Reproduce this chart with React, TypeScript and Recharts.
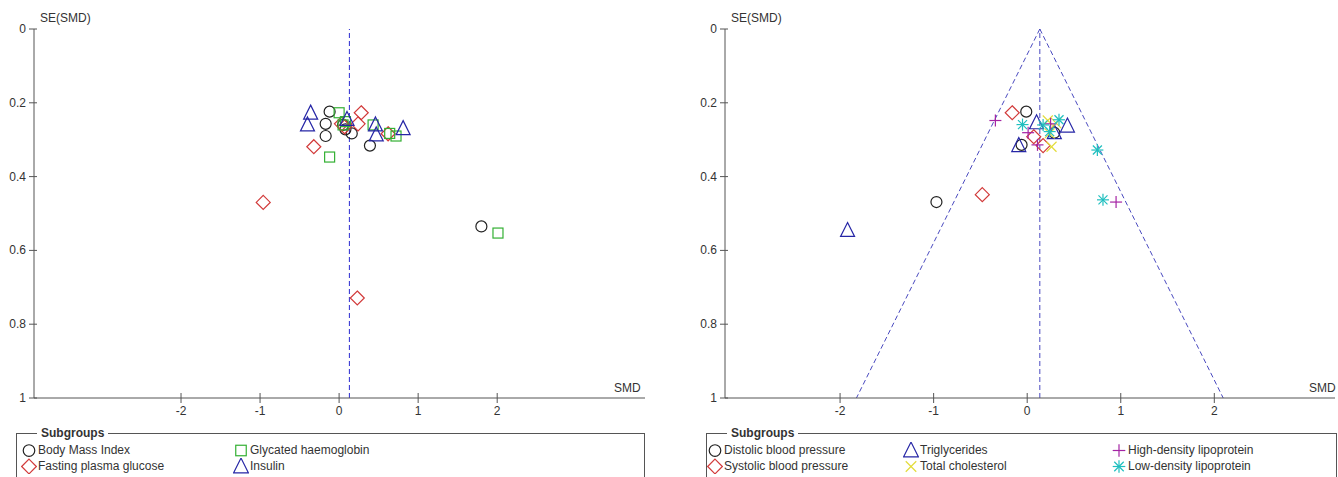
import React from 'react';
import { ScatterChart, Scatter, XAxis, YAxis, ReferenceLine } from 'recharts';

// left panel: glycaemic / anthropometric outcomes
const bmiSmd = [-0.12, -0.17, -0.17, 0.08, 0.16, 0.39, 1.8, 0.05];
const bmiSe = [0.224, 0.257, 0.29, 0.272, 0.283, 0.316, 0.535, 0.26];
const fpgSmd = [0.28, 0.24, 0.03, -0.32, -0.96, 0.23, 0.62, 0.07];
const fpgSe = [0.227, 0.257, 0.257, 0.319, 0.47, 0.729, 0.284, 0.265];
const hba1cSmd = [0.0, 0.08, 0.05, 0.43, 0.64, 0.72, -0.12, 2.01];
const hba1cSe = [0.227, 0.251, 0.26, 0.26, 0.283, 0.29, 0.347, 0.553];
const insulinSmd = [-0.36, -0.4, 0.1, 0.46, 0.47, 0.81];
const insulinSe = [0.228, 0.26, 0.245, 0.26, 0.287, 0.27];

// right panel: blood pressure / lipids
const dbpSmd = [-0.01, -0.06, -0.97, 0.29];
const dbpSe = [0.224, 0.314, 0.469, 0.281];
const sbpSmd = [-0.16, 0.07, 0.17, -0.48];
const sbpSe = [0.227, 0.292, 0.316, 0.449];
const tgSmd = [0.1, 0.43, 0.29, -0.09, -1.92];
const tgSe = [0.254, 0.263, 0.281, 0.316, 0.546];
const tcSmd = [0.22, 0.26, 0.24, 0.31];
const tcSe = [0.248, 0.319, 0.283, 0.255];
const hdlSmd = [-0.34, 0.01, 0.11, 0.25, 0.95];
const hdlSe = [0.248, 0.281, 0.314, 0.257, 0.469];
const ldlSmd = [-0.05, 0.34, 0.17, 0.24, 0.75, 0.81];
const ldlSe = [0.259, 0.246, 0.26, 0.278, 0.328, 0.463];

const xTicks = [-2, -1, 0, 1, 2];
const yTicks = [0, 0.2, 0.4, 0.6, 0.8, 1];
const leftPooled = 0.13;
const rightPooled = 0.135;

const zip = (smd: number[], se: number[]) => smd.map((v, i) => ({ smd: v, se: se[i] }));

const FONT = '"Liberation Sans", Arial, sans-serif';
const AXIS = '#555';

type Mk = 'circle' | 'square' | 'diamond' | 'triangle' | 'plus' | 'x' | 'star';

const marker = (type: Mk, cx: number, cy: number, color: string, s = 1) => {
  const p = { stroke: color, strokeWidth: 1.2, fill: 'none' };
  switch (type) {
    case 'circle':
      return <circle cx={cx} cy={cy} r={5.5 * s} {...p} />;
    case 'square':
      return <rect x={cx - 5 * s} y={cy - 5 * s} width={10 * s} height={10 * s} {...p} />;
    case 'diamond':
      return <polygon points={`${cx},${cy - 7 * s} ${cx + 7 * s},${cy} ${cx},${cy + 7 * s} ${cx - 7 * s},${cy}`} {...p} />;
    case 'triangle':
      return <polygon points={`${cx},${cy - 8 * s} ${cx + 7 * s},${cy + 6 * s} ${cx - 7 * s},${cy + 6 * s}`} {...p} />;
    case 'plus':
      return (
        <g {...p}>
          <line x1={cx - 6 * s} y1={cy} x2={cx + 6 * s} y2={cy} />
          <line x1={cx} y1={cy - 6 * s} x2={cx} y2={cy + 6 * s} />
        </g>
      );
    case 'x':
      return (
        <g {...p}>
          <line x1={cx - 5 * s} y1={cy - 5 * s} x2={cx + 5 * s} y2={cy + 5 * s} />
          <line x1={cx - 5 * s} y1={cy + 5 * s} x2={cx + 5 * s} y2={cy - 5 * s} />
        </g>
      );
    default:
      return (
        <g {...p}>
          <line x1={cx - 6 * s} y1={cy} x2={cx + 6 * s} y2={cy} />
          <line x1={cx} y1={cy - 6 * s} x2={cx} y2={cy + 6 * s} />
          <line x1={cx - 4.5 * s} y1={cy - 4.5 * s} x2={cx + 4.5 * s} y2={cy + 4.5 * s} />
          <line x1={cx - 4.5 * s} y1={cy + 4.5 * s} x2={cx + 4.5 * s} y2={cy - 4.5 * s} />
        </g>
      );
  }
};

// legend fills column by column, two rows each
const leftSeries = [
  { name: 'Body Mass Index', type: 'circle' as Mk, color: '#222', data: zip(bmiSmd, bmiSe) },
  { name: 'Fasting plasma glucose', type: 'diamond' as Mk, color: '#d23a3a', data: zip(fpgSmd, fpgSe) },
  { name: 'Glycated haemoglobin', type: 'square' as Mk, color: '#33b033', data: zip(hba1cSmd, hba1cSe) },
  { name: 'Insulin', type: 'triangle' as Mk, color: '#2626a6', data: zip(insulinSmd, insulinSe) },
];

const rightSeries = [
  { name: 'Distolic blood pressure', type: 'circle' as Mk, color: '#222', data: zip(dbpSmd, dbpSe) },
  { name: 'Systolic blood pressure', type: 'diamond' as Mk, color: '#d23a3a', data: zip(sbpSmd, sbpSe) },
  { name: 'Triglycerides', type: 'triangle' as Mk, color: '#2626a6', data: zip(tgSmd, tgSe) },
  { name: 'Total cholesterol', type: 'x' as Mk, color: '#e3dc3c', data: zip(tcSmd, tcSe) },
  { name: 'High-density lipoprotein', type: 'plus' as Mk, color: '#a424a4', data: zip(hdlSmd, hdlSe) },
  { name: 'Low-density lipoprotein', type: 'star' as Mk, color: '#1fbfbf', data: zip(ldlSmd, ldlSe) },
];

const XTick = (props: any) => {
  const { x, y, payload } = props;
  return (
    <g>
      <line x1={x} y1={y - 5} x2={x} y2={y + 5} stroke={AXIS} />
      <text x={x} y={y + 17} textAnchor="middle" fontSize={12} fill="#333" fontFamily={FONT}>
        {payload.value}
      </text>
    </g>
  );
};

const YTick = (props: any) => {
  const { x, y, payload } = props;
  return (
    <g>
      <line x1={x - 5} y1={y} x2={x + 3} y2={y} stroke={AXIS} />
      <text x={x - 8} y={y + 4} textAnchor="end" fontSize={12} fill="#333" fontFamily={FONT}>
        {payload.value}
      </text>
    </g>
  );
};

const Funnel = ({
  series,
  width,
  domain,
  marginRight,
  pooled,
  lineColor,
  showFunnel,
}: {
  series: typeof leftSeries;
  width: number;
  domain: [number, number];
  marginRight: number;
  pooled: number;
  lineColor: string;
  showFunnel: boolean;
}) => (
  <ScatterChart width={width} height={430} margin={{ top: 29, right: marginRight, bottom: 0, left: 0 }}>
    <XAxis
      type="number"
      dataKey="smd"
      domain={domain}
      ticks={xTicks}
      tick={<XTick />}
      tickSize={0}
      tickMargin={0}
      tickLine={false}
      height={32}
      stroke={AXIS}
      allowDataOverflow
    />
    <YAxis
      type="number"
      dataKey="se"
      domain={[0, 1]}
      reversed
      ticks={yTicks}
      tick={<YTick />}
      tickSize={0}
      tickMargin={0}
      tickLine={false}
      width={34}
      stroke={AXIS}
      allowDataOverflow
    />
    <ReferenceLine x={pooled} stroke={lineColor} strokeDasharray="5 3" />
    {showFunnel && (
      <ReferenceLine
        segment={[{ x: pooled, y: 0 }, { x: pooled - 1.96, y: 1 }]}
        stroke={lineColor}
        strokeDasharray="5 3"
      />
    )}
    {showFunnel && (
      <ReferenceLine
        segment={[{ x: pooled, y: 0 }, { x: pooled + 1.96, y: 1 }]}
        stroke={lineColor}
        strokeDasharray="5 3"
      />
    )}
    {series.map((s) => (
      <Scatter
        key={s.name}
        name={s.name}
        data={s.data}
        isAnimationActive={false}
        shape={(p: any) => marker(s.type, p.cx, p.cy, s.color)}
      />
    ))}
  </ScatterChart>
);

const Icon = ({ type, color }: { type: Mk; color: string }) => (
  <svg width={16} height={16} style={{ display: 'block' }}>
    {marker(type, 8, 8.5, color, 1.05)}
  </svg>
);

const LegendBox = ({
  left,
  width,
  cols,
  series,
}: {
  left: number;
  width: number;
  cols: number[];
  series: typeof leftSeries;
}) => (
  <div
    style={{
      position: 'absolute',
      left,
      top: 433,
      width,
      height: 60,
      border: '1px solid #555',
      boxSizing: 'border-box',
      fontFamily: FONT,
      fontSize: 12,
      color: '#333',
    }}
  >
    <span
      style={{
        position: 'absolute',
        left: 20,
        top: -8,
        padding: '0 4px',
        background: '#fff',
        fontWeight: 'bold',
        lineHeight: '14px',
      }}
    >
      Subgroups
    </span>
    {series.map((s, i) => (
      <div
        key={s.name}
        style={{
          position: 'absolute',
          left: cols[Math.floor(i / 2)],
          top: 8 + (i % 2) * 16,
          display: 'flex',
          alignItems: 'center',
          height: 16,
          whiteSpace: 'nowrap',
        }}
      >
        <Icon type={s.type} color={s.color} />
        <span style={{ marginLeft: 1 }}>{s.name}</span>
      </div>
    ))}
  </div>
);

const Label = ({ left, top, text }: { left: number; top: number; text: string }) => (
  <div style={{ position: 'absolute', left, top, fontFamily: FONT, fontSize: 12, color: '#333', lineHeight: '14px' }}>
    {text}
  </div>
);

export default function App() {
  return (
    <div style={{ position: 'absolute', left: 0, top: 0, width: 1338, height: 477, overflow: 'hidden', background: '#fff' }}>
      <div style={{ position: 'absolute', left: 0, top: 0 }}>
        <Funnel
          series={leftSeries}
          width={670}
          domain={[-3.86, 3.87]}
          marginRight={25}
          pooled={leftPooled}
          lineColor="#2a2ad0"
          showFunnel={false}
        />
      </div>
      <div style={{ position: 'absolute', left: 691, top: 0 }}>
        <Funnel
          series={rightSeries}
          width={647}
          domain={[-3.23, 3.29]}
          marginRight={3}
          pooled={rightPooled}
          lineColor="#4a4ac0"
          showFunnel
        />
      </div>
      <Label left={40} top={11} text="SE(SMD)" />
      <Label left={614} top={381} text="SMD" />
      <Label left={731} top={11} text="SE(SMD)" />
      <Label left={1309} top={381} text="SMD" />
      <LegendBox left={16} width={629} cols={[4, 216]} series={leftSeries} />
      <LegendBox left={706} width={631} cols={[0, 196, 404]} series={rightSeries} />
    </div>
  );
}
